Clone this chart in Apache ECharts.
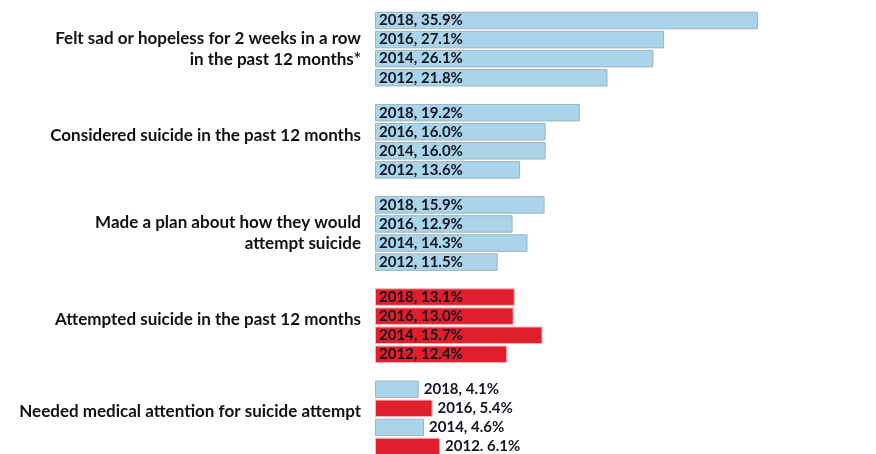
<!DOCTYPE html>
<html>
<head>
<meta charset="utf-8">
<script src="https://cdn.jsdelivr.net/npm/echarts@6/dist/echarts.min.js"></script>
<style>
html,body{margin:0;padding:0;background:#fff;overflow:hidden;}
#c{width:876px;height:464px;}
</style>
</head>
<body>
<div id="c"></div>
<script>
const categories = [
  "Felt sad or hopeless for 2 weeks in a row\nin the past 12 months*",
  "Considered suicide in the past 12 months",
  "Made a plan about how they would\nattempt suicide",
  "Attempted suicide in the past 12 months",
  "Needed medical attention for suicide attempt"
];
const years = ["2018", "2016", "2014", "2012"];
const v2018 = [35.9, 19.2, 15.9, 13.1, 4.1];
const v2016 = [27.1, 16.0, 12.9, 13.0, 5.4];
const v2014 = [26.1, 16.0, 14.3, 15.7, 4.6];
const v2012 = [21.8, 13.6, 11.5, 12.4, 6.1];
const separators2012 = [",", ",", ",", ",", "."];

const seriesValues = [v2018, v2016, v2014, v2012];
const BLUE = '#a9d4e9', RED = '#e01e2c';

function isRed(si, ci) {
  if (ci === 3) return true;
  if (ci === 4) return si === 1 || si === 3;
  return false;
}

const series = years.map((y, si) => ({
  name: y,
  type: 'bar',
  barWidth: 17.5,
  barGap: '9%',
  barCategoryGap: 16,
  animation: false,
  data: seriesValues[si].map((v, ci) => ({
    value: v,
    itemStyle: {
      color: isRed(si, ci) ? RED : BLUE,
      borderColor: isRed(si, ci) ? '#f0b8bc' : '#9fb4be',
      borderWidth: 1
    },
    label: ci === 4 ? {position: 'right', distance: 5} : {position: 'insideLeft', distance: 4}
  })),
  label: {
    show: true,
    fontFamily: 'Lato',
    fontWeight: 'bold',
    fontSize: 15,
    color: '#151520',
    formatter: p => {
      const sep = (si === 3) ? separators2012[p.dataIndex] : ",";
      return y + sep + " " + p.value.toFixed(1) + "%";
    }
  }
}));

const chart = echarts.init(document.getElementById('c'), null, {renderer: 'canvas'});
chart.setOption({
  animation: false,
  grid: {left: 375, right: 21, top: 3, bottom: 0, containLabel: false},
  xAxis: {type: 'value', min: 0, max: 45, show: false},
  yAxis: {
    type: 'category',
    data: categories,
    inverse: true,
    axisLine: {show: false},
    axisTick: {show: false},
    axisLabel: {
      margin: 14,
      fontFamily: 'Lato',
      fontWeight: 'bold',
      fontSize: 17,
      lineHeight: 21,
      color: '#111',
      align: 'right',
      formatter: v => v.indexOf('\n') < 0 ? '{s|' + v + '}' : v,
      rich: {
        s: {
          fontFamily: 'Lato',
          fontWeight: 'bold',
          fontSize: 17,
          color: '#111',
          padding: [0, 0, 12, 0]
        }
      }
    }
  },
  series: series
});
</script>
</body>
</html>
